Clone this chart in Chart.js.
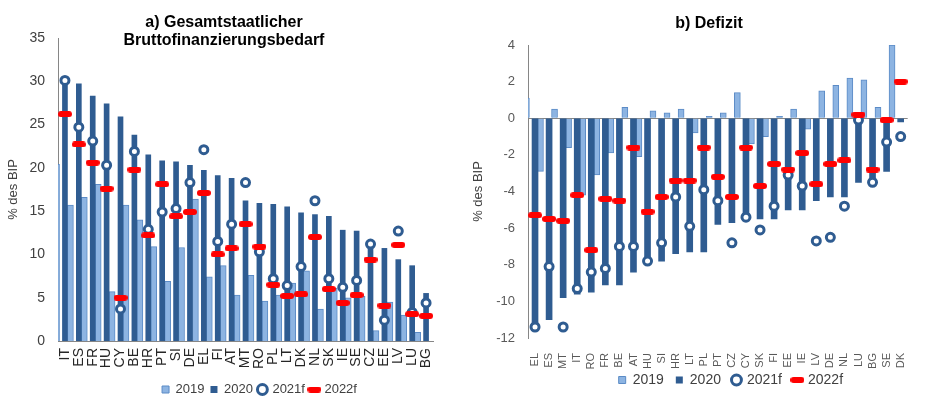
<!DOCTYPE html>
<html>
<head>
<meta charset="utf-8">
<script src="https://cdn.jsdelivr.net/npm/chart.js@4.4.1/dist/chart.umd.min.js"></script>
<style>
  html, body { margin: 0; padding: 0; background: #fff; overflow: hidden; }
  #wrap { position: relative; width: 929px; height: 400px; }
  canvas { position: absolute; top: 0; }
  #chartA { left: 0; }
  #chartB { left: 450px; }
  .ttl { position: absolute; transform: translateX(-50%); font: bold 16px "Liberation Sans", Arial, sans-serif;
         line-height: 18px; text-align: center; color: #000; white-space: nowrap; }
</style>
</head>
<body>
<div id="wrap">
  <canvas id="chartA" width="450" height="400"></canvas>
  <canvas id="chartB" width="479" height="400"></canvas>
  <div class="ttl" style="left:224px; top:13px;">a) Gesamtstaatlicher<br>Bruttofinanzierungsbedarf</div>
  <div class="ttl" style="left:709px; top:14px;">b) Defizit</div>
</div>
<script>
// a) Bruttofinanzierungsbedarf, % des BIP
const catsA = ['IT','ES','FR','HU','CY','BE','HR','PT','SI','DE','EL','FI','AT','MT','RO','PL','LT','DK','NL','SK','IE','SE','CZ','EE','LV','LU','BG'];
const gfn2019 = [20.4, 15.7, 16.6, 18.1, 5.7, 15.7, 14.0, 10.9, 6.9, 10.8, 16.4, 7.4, 8.7, 5.3, 7.6, 4.6, 5.3, 6.7, 8.1, 3.7, 6.1, 5.0, 5.2, 1.2, 4.5, 3.0, 1.0];
const gfn2020 = [30.0, 29.7, 28.3, 27.4, 25.9, 23.8, 21.5, 20.8, 20.7, 20.3, 19.7, 19.1, 18.8, 16.2, 15.9, 15.8, 15.5, 14.8, 14.6, 14.4, 12.8, 12.7, 11.3, 10.7, 9.4, 8.7, 5.5];
const gfn2021 = [30.1, 24.7, 23.1, 20.3, 3.7, 21.9, 12.9, 14.9, 15.3, 18.3, 22.1, 11.5, 13.5, 18.3, 10.3, 7.2, 6.4, 8.6, 16.2, 7.2, 6.2, 7.0, 11.2, 2.4, 12.7, 3.3, 4.4];
const gfn2022 = [26.2, 22.7, 20.6, 17.6, 5.0, 19.8, 12.2, 18.1, 14.4, 14.9, 17.1, 10.0, 10.7, 13.5, 10.9, 6.5, 5.2, 5.4, 12.0, 6.0, 4.4, 5.3, 9.4, 4.1, 11.1, 3.1, 2.9];

// b) Defizit, % des BIP
const catsB = ['EL','ES','MT','IT','RO','FR','BE','AT','HU','SI','HR','LT','PL','PT','CZ','CY','SK','FI','EE','IE','LV','DE','NL','LU','BG','SE','DK'];
const def2019 = [1.1, -2.9, 0.5, -1.6, -4.2, -3.1, -1.9, 0.6, -2.1, 0.4, 0.3, 0.5, -0.8, 0.1, 0.3, 1.4, -1.4, -1.0, 0.1, 0.5, -0.6, 1.5, 1.8, 2.2, 2.1, 0.6, 4.0];
const def2020 = [-11.2, -11.0, -9.8, -9.6, -9.5, -9.1, -9.1, -8.4, -8.0, -7.8, -7.4, -7.3, -7.3, -5.8, -5.7, -5.6, -5.5, -5.5, -5.0, -5.0, -4.5, -4.3, -4.3, -3.5, -3.4, -2.9, -0.2];
const def2021 = [-11.4, -8.1, -11.4, -9.3, -8.4, -8.2, -7.0, -7.0, -7.8, -6.8, -4.3, -5.9, -3.9, -4.5, -6.8, -5.4, -6.1, -4.8, -3.1, -3.7, -6.7, -6.5, -4.8, -0.1, -3.5, -1.3, -1.0];
const def2022 = [-5.3, -5.5, -5.6, -4.2, -7.2, -4.4, -4.5, -1.6, -5.1, -4.3, -3.4, -3.4, -1.6, -3.2, -4.3, -1.6, -3.7, -2.5, -2.8, -1.9, -3.6, -2.5, -2.3, 0.2, -2.8, -0.1, 2.0];

const darkBlue = '#2F5C91';
const lightBlue = '#8DB4E2';
const lightEdge = '#5B8BC6';
const axisGray = '#868686';
const fam = '"Liberation Sans", Arial, sans-serif';

// red dash used for the 2022f markers
const dash = document.createElement('canvas');
dash.width = 14; dash.height = 6;
const dctx = dash.getContext('2d');
dctx.fillStyle = '#FF0000';
dctx.beginPath();
dctx.roundRect(0, 0, 14, 6, 3);
dctx.fill();

// moves the legend after layout (the x labels need their full axis box)
const legendNudge = {
  id: 'legendNudge',
  afterLayout(chart, args, opts) {
    const lg = chart.legend;
    if (!lg) return;
    lg.top += opts.dy || 0; lg.bottom += opts.dy || 0;
    lg.left += opts.dx || 0; lg.right += opts.dx || 0;
  }
};

function makeChart(id, cats, v19, v20, v21, v22, o) {
  return new Chart(document.getElementById(id), {
    type: 'bar',
    plugins: [legendNudge],
    data: {
      labels: cats,
      datasets: [
        {
          label: '2019',
          // 2019 sits just left of the 2020 bar
          data: v19.map((v, i) => ({ x: i - o.shift, y: v })),
          xAxisID: 'xs',
          backgroundColor: lightBlue,
          borderColor: lightEdge,
          borderWidth: 1,
          barThickness: o.bw19,
          pointStyle: 'rect',
          order: 3
        },
        {
          label: '2020',
          data: v20,
          backgroundColor: darkBlue,
          borderWidth: 0,
          barThickness: o.bw20,
          grouped: false,
          pointStyle: 'rect',
          order: 2
        },
        {
          type: 'line',
          label: '2021f',
          data: v21,
          showLine: false,
          pointStyle: 'circle',
          pointRadius: 4,
          pointBorderWidth: 3,
          pointBackgroundColor: '#fff',
          pointBorderColor: darkBlue,
          borderColor: darkBlue,
          backgroundColor: '#fff',
          order: 1
        },
        {
          type: 'line',
          label: '2022f',
          data: v22,
          showLine: false,
          pointStyle: dash,
          pointRadius: 6,
          borderColor: '#FF0000',
          backgroundColor: '#FF0000',
          order: 0
        }
      ]
    },
    options: {
      responsive: false,
      animation: false,
      events: [],
      layout: { padding: o.pad },
      plugins: {
        tooltip: { enabled: false },
        legendNudge: { dx: o.legDx, dy: o.legDy },
        legend: {
          position: 'bottom',
          fullSize: false,
          labels: {
            usePointStyle: true,
            boxWidth: 7,
            boxHeight: 7,
            padding: o.legPad,
            color: '#404040',
            font: { family: fam, size: o.legSize },
            sort: (a, b) => a.datasetIndex - b.datasetIndex
          }
        }
      },
      scales: {
        x: {
          grid: { display: false, drawTicks: false },
          border: { display: o.xBorder, color: axisGray },
          ticks: {
            autoSkip: false, maxRotation: 90, minRotation: 90,
            padding: o.xPad, color: o.xColor,
            font: { family: fam, size: o.xSize }
          },
          afterFit: s => { s.height = o.xHeight; }
        },
        xs: {
          type: 'linear', display: false, offset: false,
          min: -0.5, max: cats.length - 0.5
        },
        y: {
          min: o.min, max: o.max,
          ticks: { stepSize: o.step, padding: 13, color: o.yColor, font: { family: fam, size: o.ySize } },
          grid: {
            display: o.zeroLine, drawTicks: false,
            color: c => (c.tick && c.tick.value === 0 ? axisGray : 'rgba(0,0,0,0)')
          },
          border: { display: true, color: axisGray },
          title: {
            display: true, text: '% des BIP', color: '#404040',
            font: { family: fam, size: 13 },
            padding: { top: o.titlePad, bottom: 0 }
          },
          afterFit: s => { s.width = o.yWidth; }
        }
      }
    }
  });
}

makeChart('chartA', catsA, gfn2019, gfn2020, gfn2021, gfn2022, {
  shift: 0.39, bw19: 6, bw20: 5,
  pad: { top: 38, right: 7, left: 0, bottom: 0 },
  legPad: 6, legSize: 13, legDx: 14, legDy: 6,
  xBorder: true, xPad: 7, xColor: '#262626', xSize: 14, xHeight: 30,
  min: 0, max: 35, step: 5, yColor: '#404040', ySize: 14,
  zeroLine: false, titlePad: 6, yWidth: 58
});

makeChart('chartB', catsB, def2019, def2020, def2021, def2022, {
  shift: 0.40, bw19: 6, bw20: 6,
  pad: { top: 45, right: 0, left: 0, bottom: -5 },
  legPad: 12, legSize: 14, legDx: 13, legDy: -8,
  xBorder: false, xPad: 15, xColor: '#595959', xSize: 11, xHeight: 31,
  min: -12, max: 4, step: 2, yColor: '#595959', ySize: 13,
  zeroLine: true, titlePad: 21, yWidth: 78
});
</script>
</body>
</html>
